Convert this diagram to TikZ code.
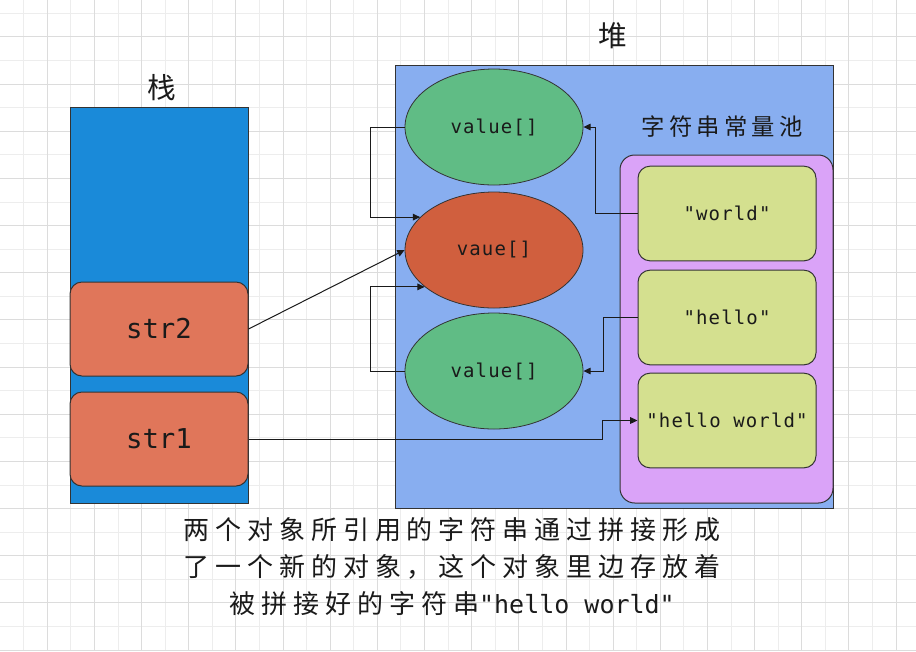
\documentclass[tikz,border=0pt]{standalone}
\usepackage{fontspec}
\usetikzlibrary{arrows.meta,calc,shapes.geometric}
\newfontfamily\cjk{Noto Sans CJK SC}
\newfontfamily\cjkls[LetterSpace=23]{Noto Sans CJK SC}
\newfontfamily\cjkpool[LetterSpace=18]{Noto Sans CJK SC}
\newfontfamily\mono{DejaVu Sans Mono}
\newfontfamily\monols[LetterSpace=6]{DejaVu Sans Mono}
\definecolor{stackblue}{RGB}{26,138,217}
\definecolor{strred}{RGB}{224,118,90}
\definecolor{heapblue}{RGB}{136,174,240}
\definecolor{ellgreen}{RGB}{96,188,133}
\definecolor{ellred}{RGB}{208,95,62}
\definecolor{poolpurple}{RGB}{218,163,248}
\definecolor{strgreen}{RGB}{212,224,143}
\definecolor{gridminor}{RGB}{237,237,237}
\definecolor{gridmajor}{RGB}{220,220,220}
\definecolor{edgecol}{RGB}{51,51,51}
\definecolor{inkcol}{RGB}{26,26,26}
\begin{document}
\begin{tikzpicture}[x=0.75pt,y=-0.75pt,
  box/.style={draw=edgecol, line width=0.75pt, inner sep=0pt, text=inkcol},
  strbox/.style={box, fill=strred, rounded corners=9pt, minimum width=133.5pt, minimum height=70.5pt, font=\mono\fontsize{20.5}{24}\selectfont},
  ellnode/.style={ellipse, draw=edgecol, line width=0.6pt, minimum width=133.5pt, minimum height=87pt, inner sep=0pt, text=inkcol, font=\monols\fontsize{14.25}{17}\selectfont},
  litbox/.style={box, fill=strgreen, rounded corners=9pt, minimum width=133.5pt, minimum height=71pt, font=\monols\fontsize{14.25}{17}\selectfont},
  arr/.style={-{Triangle[length=5.5pt,width=5pt]}, line width=0.75pt, draw=inkcol},
  lbl/.style={inner sep=0pt, text=inkcol}
]
\useasboundingbox (0,0) rectangle (916,651);
\fill[white] (0,0) rectangle (916,651);
% grid
\foreach \k in {1,...,38} \draw[gridminor, line width=0.6pt] ({\k*23.58},0) -- ({\k*23.58},651);
\foreach \k in {0,...,27} \draw[gridminor, line width=0.6pt] (0,{13.3+\k*23.58}) -- (916,{13.3+\k*23.58});
\foreach \k in {2,4,...,38} \draw[gridmajor, line width=0.6pt] ({\k*23.58},0) -- ({\k*23.58},651);
\foreach \k in {1,3,...,27} \draw[gridmajor, line width=0.6pt] (0,{13.3+\k*23.58}) -- (916,{13.3+\k*23.58});

% containers
\node[box, fill=stackblue, minimum width=133.5pt, minimum height=297pt] (stack) at (159,305) {};
\node[box, fill=heapblue, minimum width=328.5pt, minimum height=332.25pt] (heap) at (614,286.5) {};
\node[box, fill=poolpurple, rounded corners=11pt, minimum width=159.75pt, minimum height=261pt] (pool) at (726.5,329) {};

% labels
\node[lbl, font=\cjk\fontsize{21.5}{24}\selectfont] (stacklbl) at (162,88) {栈};
\node[lbl, font=\cjk\fontsize{21.5}{24}\selectfont] (heaplbl) at (613,36) {堆};
\node[lbl, font=\cjkpool\fontsize{17.5}{20}\selectfont] (poollbl) at (722,127) {字符串常量池};

% stack entries
\node[strbox] (str2) at (159,329) {str2};
\node[strbox] (str1) at (159,439) {str1};

% pool entries
\node[litbox] (world) at (727,213.5) {"world"};
\node[litbox] (hello) at (727,317.5) {"hello"};
\node[litbox] (hw) at (727,420.5) {"hello world"};

% heap objects
\node[ellnode, fill=ellgreen] (ell1) at (494,127) {value[]};
\node[ellnode, fill=ellred] (ell2) at (494,250) {vaue[]};
\node[ellnode, fill=ellgreen] (ell3) at (494,371) {value[]};

% connectors
\draw[arr] (world.west) -- ++(-42,0) |- (ell1.east);
\draw[arr] (hello.west) -- ++(-34,0) |- (ell3.east);
\draw[arr] (str1.east) -| ($(hw.west)+(-35,0)$) -- (hw.west);
\draw[arr] (str2.east) -- (ell2.west);
\draw[arr] (ell1.west) -- ++(-34,0) |- (ell2.156);
\draw[arr] (ell3.west) -- ++(-34,0) |- (ell2.208);

% caption
\node[lbl, align=center, font=\fontsize{19.5}{27.75}\selectfont] (caption) at (452,567)
  {{\cjkls 两个对象所引用的字符串通过拼接形成}\\
   {\cjkls 了一个新的对象，这个对象里边存放着}\\
   {\cjkls 被拼接好的字符串}{\mono\fontsize{18.75}{27.75}\selectfont "hello world"}};
\end{tikzpicture}
\end{document}
